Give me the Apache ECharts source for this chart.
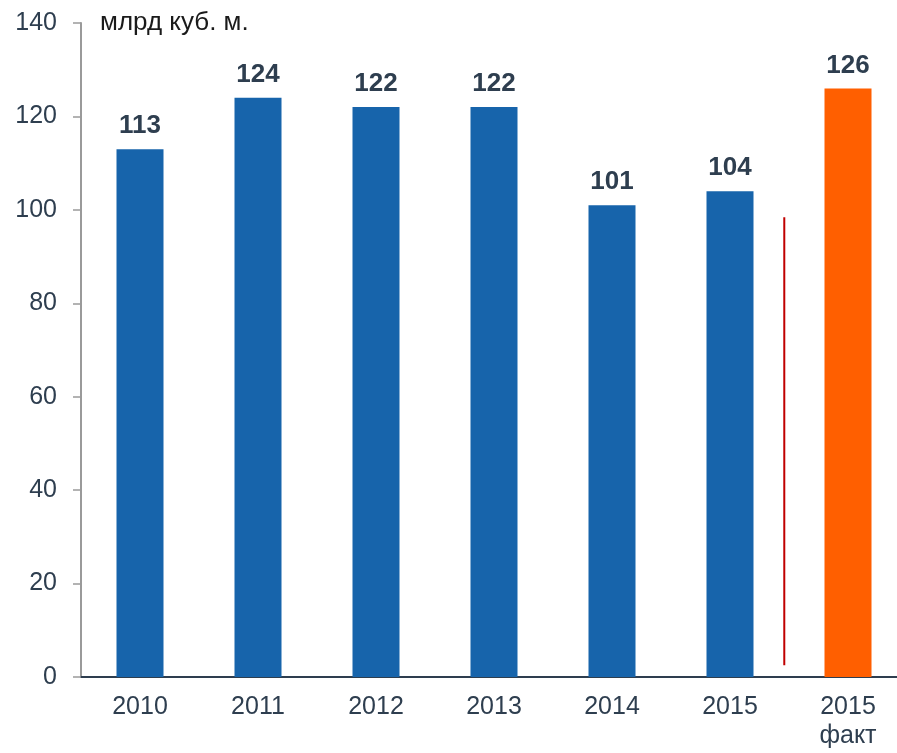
<!DOCTYPE html>
<html>
<head>
<meta charset="utf-8">
<script src="https://cdn.jsdelivr.net/npm/echarts@6/dist/echarts.min.js"></script>
<style>
    html, body { margin: 0; padding: 0; background: #fff; }
    #chart { width: 897px; height: 753px; }
</style>
</head>
<body>
<div id="chart"></div>
<script>
    // данные
    var years = ['2010', '2011', '2012', '2013', '2014', '2015', '2015\nфакт'];
    var volumes = [113, 124, 122, 122, 101, 104, 126];
    var yTicks = { min: 0, max: 140, step: 20 };
    // красная разделительная линия (в единицах осей)
    var separatorX = 5.96;
    var separatorY = [2.5, 98.4];

    var textColor = '#2E3E4F';

    var myChart = echarts.init(document.getElementById('chart'));
    myChart.setOption({
        animation: false,
        title: {
            text: 'млрд куб. м.',
            left: 95,
            top: 5,
            textStyle: {
                fontFamily: 'Liberation Sans',
                fontWeight: 'normal',
                fontSize: 26,
                color: '#1a1a1a'
            }
        },
        grid: {
            left: 81,
            right: -10,
            top: 23,
            bottom: 76,
            outerBoundsMode: 'none'
        },
        xAxis: [{
            type: 'category',
            data: years,
            axisLine: {
                lineStyle: { color: '#2E3E4F', width: 2 }
            },
            axisTick: {
                length: 8,
                lineStyle: { color: '#2E3E4F', width: 2 }
            },
            axisLabel: {
                interval: 0,
                margin: 16,
                fontFamily: 'Liberation Sans',
                fontSize: 25,
                lineHeight: 29,
                color: textColor
            }
        }, {
            type: 'value',
            show: false,
            min: 0,
            max: years.length
        }],
        yAxis: {
            type: 'value',
            min: yTicks.min,
            max: yTicks.max,
            interval: yTicks.step,
            axisLine: {
                show: true,
                lineStyle: { color: '#9a9a9a', width: 2 }
            },
            axisTick: {
                show: true,
                length: 8,
                lineStyle: { color: '#9a9a9a', width: 1.5 }
            },
            splitLine: { show: false },
            axisLabel: {
                margin: 24,
                fontFamily: 'Liberation Sans',
                fontSize: 25,
                color: textColor
            }
        },
        series: [{
            name: 'Объём',
            type: 'bar',
            xAxisIndex: 0,
            barWidth: 47,
            data: volumes,
            itemStyle: {
                color: function (params) {
                    return params.dataIndex === years.length - 1 ? '#FF5F00' : '#1764AB';
                }
            },
            label: {
                show: true,
                position: 'top',
                distance: 10,
                fontFamily: 'Liberation Sans',
                fontWeight: 'bold',
                fontSize: 26,
                color: textColor
            }
        }, {
            name: 'Разделитель',
            type: 'line',
            xAxisIndex: 1,
            symbol: 'none',
            data: [[separatorX, separatorY[0]], [separatorX, separatorY[1]]],
            lineStyle: { color: '#C00000', width: 2 }
        }]
    });
</script>
</body>
</html>
